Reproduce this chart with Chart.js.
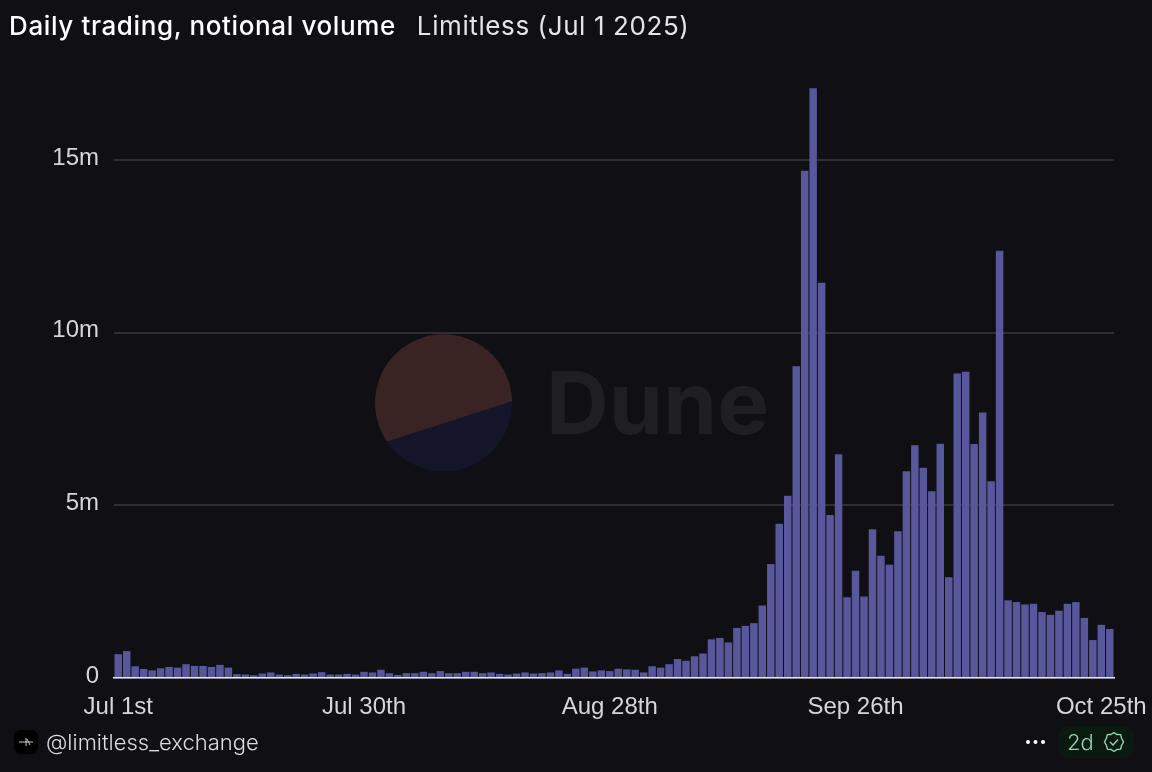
<!DOCTYPE html>
<html>
<head>
<meta charset="utf-8">
<title>Daily trading, notional volume</title>
<script src="https://cdn.jsdelivr.net/npm/chart.js@4"></script>
<style>
  html, body { margin: 0; padding: 0; background: #101014; }
  #wrap { position: relative; width: 1152px; height: 772px; overflow: hidden; font-family: Inter, sans-serif; }
  #wrap > * { position: absolute; }
  #chart { left: 0; top: 0; }
  #title { left: 9px; top: 10px; font-size: 26px; line-height: 32px; letter-spacing: 0.62px; color: #fff; font-weight: 500; white-space: pre; }
  #title span { font-weight: 400; color: #e4e4e6; margin-left: 21px; letter-spacing: 0.6px; }
  #pie { left: 370px; top: 330px; }
  #dune { left: 546px; top: 348px; font-size: 87px; line-height: 110px; font-weight: 700; color: #1f1f23; }
  #handle { left: 46px; top: 728px; font-size: 22px; line-height: 28px; font-weight: 300; color: #dcdcde; }
  #logo { left: 14px; top: 730px; }
  #dots { left: 1025px; top: 737px; }
  #badge { left: 1059px; top: 726px; width: 75px; height: 32px; border-radius: 9px; background: #0a1a11; }
  #badge span { position: absolute; left: 8px; top: 2px; font-size: 22px; line-height: 28px; font-weight: 300; color: #8fd6a8; }
  #badge svg { position: absolute; left: 44px; top: 5px; }
</style>
</head>
<body>
<div id="wrap">
  <svg id="pie" width="150" height="150" viewBox="370 330 150 150">
    <circle cx="443.5" cy="403" r="68.5" fill="#15152a"/>
    <path d="M512 401 A68.5 68.5 0 1 0 387 441.5 Z" fill="#3a2423"/>
  </svg>
  <div id="dune">Dune</div>
  <canvas id="chart" width="1152" height="772" style="width:1152px;height:772px"></canvas>
  <div id="title">Daily trading, notional volume<span>Limitless (Jul 1 2025)</span></div>
  <svg id="logo" width="24" height="24" viewBox="0 0 24 24">
    <rect width="24" height="24" rx="6" fill="#000"/>
    <path d="M5 12 H19 M12 8 V16 M13 9 L16 15" stroke="#c9c9c9" stroke-width="1" fill="none"/>
  </svg>
  <div id="handle">@limitless_exchange</div>
  <svg id="dots" width="22" height="10" viewBox="0 0 22 10">
    <circle cx="3" cy="5" r="2" fill="#fff"/><circle cx="10.5" cy="5" r="2" fill="#fff"/><circle cx="18" cy="5" r="2" fill="#fff"/>
  </svg>
  <div id="badge">
    <span>2d</span>
    <svg width="22" height="22" viewBox="0 0 22 22" fill="none" stroke="#8fd6a8" stroke-width="1.4">
      <path d="M11 1.5 L14 3.5 L17.6 3.6 L18.5 7 L20.5 11 L18.5 14.5 L17.6 18.2 L14 18.5 L11 20.5 L8 18.5 L4.4 18.2 L3.5 14.5 L1.5 11 L3.5 7 L4.4 3.6 L8 3.5 Z"/>
      <path d="M7 11 L10 14 L15 8.5"/>
    </svg>
  </div>
</div>
<script>
// volume in millions, one value per day from Jul 1
const volumes = [
  0.69,0.78,0.34,0.26,0.22,0.28,0.32,0.30,0.40,0.35,
  0.35,0.32,0.38,0.30,0.11,0.10,0.08,0.13,0.16,0.10,
  0.08,0.12,0.10,0.13,0.17,0.10,0.10,0.12,0.10,0.18,
  0.16,0.24,0.14,0.09,0.14,0.14,0.18,0.14,0.20,0.14,
  0.14,0.18,0.18,0.14,0.16,0.12,0.10,0.13,0.16,0.13,
  0.14,0.16,0.22,0.12,0.27,0.30,0.19,0.22,0.20,0.27,
  0.25,0.24,0.16,0.34,0.30,0.40,0.55,0.50,0.63,0.71,
  1.12,1.16,1.03,1.45,1.51,1.59,2.10,3.30,4.47,5.28,
  9.03,14.70,17.09,11.45,4.72,6.48,2.34,3.11,2.36,4.31,
  3.54,3.28,4.25,5.99,6.74,6.09,5.41,6.79,2.92,8.82,
  8.87,6.78,7.69,5.70,12.38,2.25,2.20,2.13,2.15,1.91,
  1.83,1.95,2.15,2.20,1.74,1.10,1.54,1.42
]
const xTickLabels = ['Jul 1st', 'Jul 30th', 'Aug 28th', 'Sep 26th', 'Oct 25th']
const xTickEvery = 29
const yTicks = [0, 5, 10, 15]
const days = volumes.map((v, i) => i)

new Chart(document.getElementById('chart'), {
  type: 'bar',
  data: {
    labels: days,
    datasets: [{
      data: volumes,
      backgroundColor: '#58579b',
      borderWidth: 0,
      barPercentage: 0.88,
      categoryPercentage: 1
    }]
  },
  options: {
    responsive: false,
    animation: false,
    devicePixelRatio: 1,
    layout: { padding: { top: 74, right: 38, bottom: 0, left: 0 } },
    plugins: { legend: { display: false }, tooltip: { enabled: false } },
    scales: {
      x: {
        afterFit: s => { s.height = 94 },
        grid: { display: false },
        border: { display: true, color: '#e8e8ee', width: 1.5 },
        ticks: {
          autoSkip: false,
          maxRotation: 0,
          padding: 7,
          color: '#d6d6d8',
          font: { family: 'Liberation Sans', size: 24 },
          callback: (v, i) => i % xTickEvery == 0 ? xTickLabels[i / xTickEvery] : ''
        }
      },
      y: {
        min: 0,
        max: 17.5,
        afterFit: s => { s.width = 114 },
        afterBuildTicks: s => { s.ticks = yTicks.map(value => ({ value })) },
        grid: { color: '#2e2e31', lineWidth: 2, drawTicks: false },
        border: { display: false },
        ticks: {
          padding: 15,
          labelOffset: -2,
          color: '#d6d6d8',
          font: { family: 'Liberation Sans', size: 24 },
          callback: v => v == 0 ? '0' : v + 'm'
        }
      }
    }
  }
})
</script>
</body>
</html>
